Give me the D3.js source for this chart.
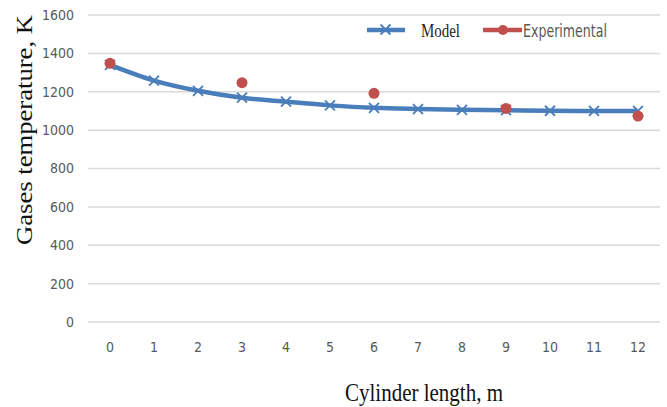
<!DOCTYPE html>
<html><head><meta charset="utf-8">
<script src="https://cdn.jsdelivr.net/npm/d3@7"></script>
<style>body{margin:0;background:#fff}</style>
</head><body>
<svg id="c" width="667" height="407"></svg>
<script>
const categories = [0,1,2,3,4,5,6,7,8,9,10,11,12];
const modelValues = [1340,1258,1205,1169,1148,1129,1116,1110,1106,1104,1101,1100,1100];
const expCategories = [0,3,6,9,12];
const expValues = [1348,1247,1192,1113,1073];
const yTicks = [0,200,400,600,800,1000,1200,1400,1600];

(function(){
const svg = d3.select("#c");
const pL = 88, pR = 660, pT = 15, pB = 322;
const sansF = "'Liberation Sans Narrow','DejaVu Sans Condensed',sans-serif";
const x = d3.scaleBand().domain(categories).range([pL,pR]);
const cx = d => x(d) + x.bandwidth()/2;
const y = d3.scaleLinear().domain([0,1600]).range([pB,pT]);

// gridlines
svg.append("g").selectAll("line").data(yTicks).join("line")
  .attr("x1",pL).attr("x2",pR)
  .attr("y1",d=>y(d)).attr("y2",d=>y(d))
  .attr("stroke","#d9d9d9").attr("stroke-width",1.5);

// y axis labels
const yAxis = d3.axisLeft(y).tickValues(yTicks).tickFormat(d3.format("d")).tickSize(0).tickPadding(0);
const gy = svg.append("g").attr("transform",`translate(74,0)`).call(yAxis);
gy.select(".domain").remove();
gy.selectAll("text").attr("font-family",sansF).attr("font-size",14).attr("fill","#595959");

// x axis labels
const xAxis = d3.axisBottom(x).tickSize(0).tickPadding(0);
const gx = svg.append("g").attr("transform",`translate(0,342)`).call(xAxis);
gx.select(".domain").remove();
gx.selectAll("text").attr("font-family",sansF).attr("font-size",14).attr("fill","#595959");

// model line
const line = d3.line().x((d,i)=>cx(categories[i])).y(d=>y(d)).curve(d3.curveMonotoneX);
svg.append("path").datum(modelValues).attr("d",line)
  .attr("fill","none").attr("stroke","#4a7ebb").attr("stroke-width",4.5);

// model markers (x)
const xm = svg.append("g");
modelValues.forEach((v,i)=>{
  const px = cx(categories[i]), py = y(v), s=5;
  xm.append("path").attr("d",`M${px-s},${py-s}L${px+s},${py+s}M${px-s},${py+s}L${px+s},${py-s}`)
    .attr("stroke","#4a7ebb").attr("stroke-width",1.8).attr("fill","none");
});

// experimental points
svg.append("g").selectAll("circle").data(expValues).join("circle")
  .attr("cx",(d,i)=>cx(expCategories[i])).attr("cy",d=>y(d)).attr("r",5.5)
  .attr("fill","#c0504d");

// legend
const lg = svg.append("g");
lg.append("line").attr("x1",367).attr("x2",405).attr("y1",30).attr("y2",30)
  .attr("stroke","#4a7ebb").attr("stroke-width",4.5);
lg.append("path").attr("d","M380.5,24.5L390.5,34.5M380.5,34.5L390.5,24.5")
  .attr("stroke","#4a7ebb").attr("stroke-width",1.8);
lg.append("text").attr("x",421).attr("y",36.5).text("Model")
  .attr("textLength",39).attr("lengthAdjust","spacingAndGlyphs")
  .attr("font-family","'Liberation Serif',serif").attr("font-size",19).attr("fill","#222");
lg.append("line").attr("x1",483).attr("x2",522).attr("y1",30).attr("y2",30)
  .attr("stroke","#c0504d").attr("stroke-width",4.5);
lg.append("circle").attr("cx",503).attr("cy",30).attr("r",5).attr("fill","#c0504d");
lg.append("text").attr("x",523).attr("y",36.5).text("Experimental")
  .attr("textLength",84).attr("lengthAdjust","spacingAndGlyphs")
  .attr("font-family",sansF).attr("font-size",17).attr("fill","#595959");

// axis titles
svg.append("text").attr("x",0).attr("y",0)
  .attr("transform","translate(32,130) rotate(-90)").attr("text-anchor","middle")
  .attr("textLength",230).attr("lengthAdjust","spacingAndGlyphs")
  .attr("font-family","'Liberation Serif',serif").attr("font-size",24).attr("fill","#111")
  .text("Gases temperature, K");
svg.append("text").attr("x",424).attr("y",401).attr("text-anchor","middle")
  .attr("textLength",158).attr("lengthAdjust","spacingAndGlyphs")
  .attr("font-family","'Liberation Serif',serif").attr("font-size",26).attr("fill","#111")
  .text("Cylinder length, m");
})();
</script>
</body></html>
